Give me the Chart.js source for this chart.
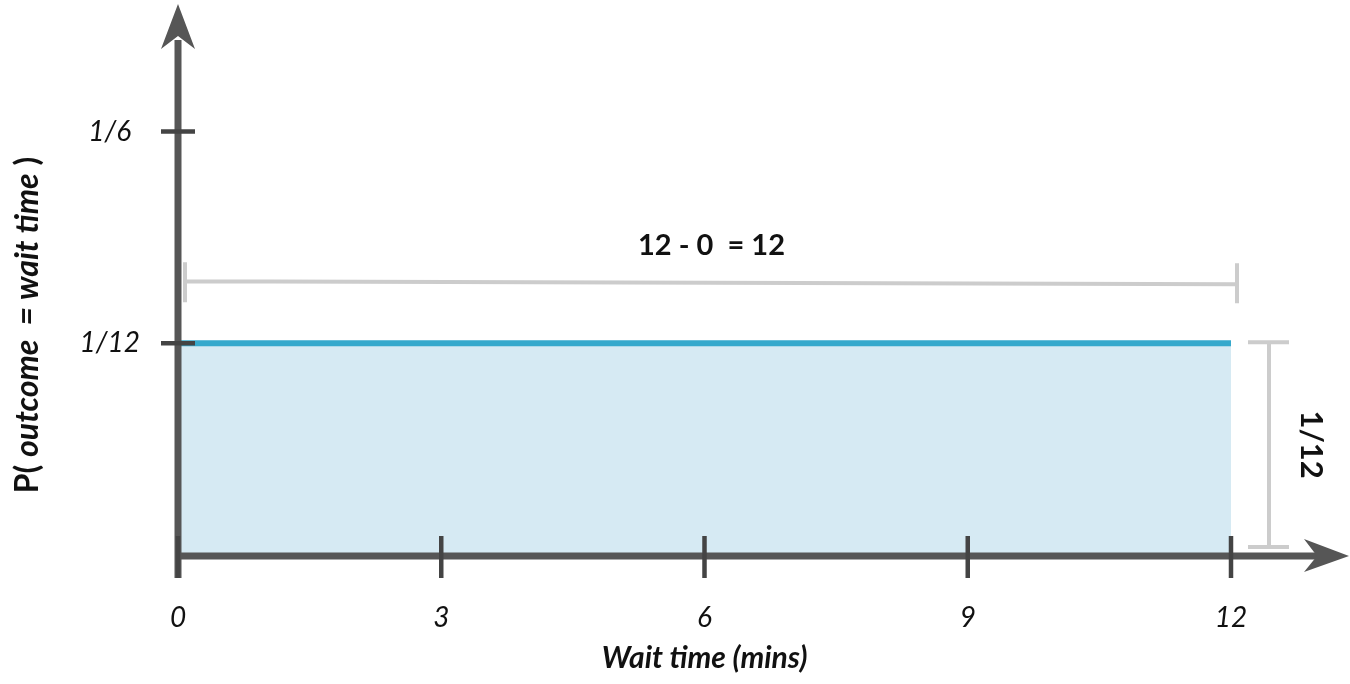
<!DOCTYPE html>
<html>
<head>
<meta charset="utf-8">
<script src="https://cdn.jsdelivr.net/npm/chart.js@4/dist/chart.umd.min.js"></script>
<style>
  html, body { margin: 0; padding: 0; background: #ffffff; }
  #wrap { width: 1350px; height: 684px; position: relative; }
</style>
</head>
<body>
<div id="wrap"><canvas id="c"></canvas></div>
<script>
// ---- data ----
const waitTimes = [0, 12];            // minutes (uniform support)
const density = [1 / 12, 1 / 12];     // P(outcome = wait time)
const xTicks = [0, 3, 6, 9, 12];
const yTicks = [1 / 12, 1 / 6];
const yTickLabels = ['1/12', '1/6'];
const xTitle = 'Wait time (mins)';
const heightLabel = '1/12';

const AXIS = '#565656';
const TICK = '#444444';
const GUIDE = '#cccccc';
const FILL = '#d6eaf3';
const LINE = '#36a9cc';
const TEXT = '#111111';
const FONT = 'Lato, "Open Sans", sans-serif';

const points = waitTimes.map((x, i) => ({ x: x, y: density[i] }));
const xMin = Math.min(...waitTimes), xMax = Math.max(...waitTimes);
const widthLabel = `${xMax} - ${xMin}  = ${xMax - xMin}`;

const decorPlugin = {
  id: 'decor',
  afterDraw(chart) {
    const ctx = chart.ctx;
    const xs = chart.scales.x, ys = chart.scales.y;
    const x0 = xs.getPixelForValue(xMin);
    const x1 = xs.getPixelForValue(xMax);
    const yZero = ys.getPixelForValue(0) + 1;
    const yH = ys.getPixelForValue(density[0]);
    ctx.save();

    // --- guide brackets (light gray) ---
    ctx.strokeStyle = GUIDE;
    ctx.lineWidth = 4;
    ctx.lineCap = 'butt';
    const by = yH - 61;
    ctx.beginPath();
    ctx.moveTo(x0 + 7, by - 1); ctx.lineTo(x1 + 6, by + 2);
    ctx.moveTo(x0 + 7, by - 20); ctx.lineTo(x0 + 7, by + 20);
    ctx.moveTo(x1 + 6, by - 19); ctx.lineTo(x1 + 6, by + 21);
    ctx.stroke();
    const vx = x1 + 38;
    const vTop = yH - 1, vBot = yZero - 9;
    ctx.beginPath();
    ctx.moveTo(vx, vTop); ctx.lineTo(vx, vBot);
    ctx.moveTo(vx - 21, vTop); ctx.lineTo(vx + 20, vTop);
    ctx.moveTo(vx - 21, vBot); ctx.lineTo(vx + 20, vBot);
    ctx.stroke();

    // --- axes ---
    ctx.strokeStyle = AXIS;
    ctx.fillStyle = AXIS;
    ctx.lineWidth = 7;
    ctx.beginPath();
    ctx.moveTo(x0, yZero + 22); ctx.lineTo(x0, 40);
    ctx.stroke();
    ctx.beginPath();
    ctx.moveTo(x0 - 3, yZero); ctx.lineTo(1320, yZero);
    ctx.stroke();
    // y arrow head
    ctx.beginPath();
    ctx.moveTo(x0, 4); ctx.lineTo(x0 - 17, 49); ctx.lineTo(x0, 36); ctx.lineTo(x0 + 17, 49);
    ctx.closePath(); ctx.fill();
    // x arrow head
    ctx.beginPath();
    ctx.moveTo(1349, yZero); ctx.lineTo(1304, yZero - 17); ctx.lineTo(1317, yZero); ctx.lineTo(1304, yZero + 16);
    ctx.closePath(); ctx.fill();

    // --- ticks ---
    ctx.strokeStyle = TICK;
    ctx.lineWidth = 4.5;
    ctx.beginPath();
    xTicks.forEach(v => {
      const px = xs.getPixelForValue(v);
      ctx.moveTo(px, yZero - 20); ctx.lineTo(px, yZero + 22);
    });
    yTicks.forEach(v => {
      const py = ys.getPixelForValue(v);
      ctx.moveTo(x0 - 17, py); ctx.lineTo(x0 + 17, py);
    });
    ctx.stroke();

    // --- texts ---
    ctx.fillStyle = TEXT;
    ctx.textBaseline = 'middle';
    ctx.textAlign = 'center';
    ctx.font = `bold 29px ${FONT}`;
    ctx.fillText(widthLabel, (x0 + x1) / 2 + 7, by - 37);

    ctx.save();
    ctx.translate(vx + 42, (vTop + vBot) / 2);
    ctx.rotate(Math.PI / 2);
    ctx.font = `bold 31px ${FONT}`;
    ctx.fillText(heightLabel, 0, 0);
    ctx.restore();

    // y title with mixed styles
    const parts = [
      { t: 'P( ', f: `bold 32px ${FONT}` },
      { t: 'outcome  = wait time', f: `italic bold 32px ${FONT}` },
      { t: ' )', f: `bold 32px ${FONT}` }
    ];
    let total = 0;
    parts.forEach(p => { ctx.font = p.f; p.w = ctx.measureText(p.t).width; total += p.w; });
    ctx.save();
    ctx.translate(28, 325);
    ctx.rotate(-Math.PI / 2);
    ctx.textAlign = 'left';
    let cx = -total / 2;
    parts.forEach(p => { ctx.font = p.f; ctx.fillText(p.t, cx, 0); cx += p.w; });
    ctx.restore();

    ctx.restore();
  }
};

new Chart(document.getElementById('c'), {
  type: 'line',
  data: {
    datasets: [{
      data: points,
      borderColor: LINE,
      borderWidth: 6,
      backgroundColor: FILL,
      fill: 'origin',
      pointRadius: 0,
      tension: 0
    }]
  },
  options: {
    responsive: true,
    maintainAspectRatio: false,
    animation: false,
    events: [],
    layout: { padding: { top: 22, right: 119, bottom: 8, left: 0 } },
    plugins: { legend: { display: false }, tooltip: { enabled: false } },
    scales: {
      x: {
        type: 'linear',
        min: xMin,
        max: xMax,
        afterBuildTicks: s => { s.ticks = xTicks.map(v => ({ value: v })); },
        afterFit: s => { s.height = 121; },
        grid: { display: false },
        border: { display: false },
        ticks: {
          padding: 38,
          color: TEXT,
          font: { family: FONT, size: 28, style: 'italic' },
          maxRotation: 0,
          callback: v => String(v)
        },
        title: {
          display: true,
          text: xTitle,
          color: TEXT,
          font: { family: FONT, size: 30, style: 'italic', weight: 'bold' },
          padding: { top: 4, bottom: 0 }
        }
      },
      y: {
        type: 'linear',
        min: 0,
        max: 0.2,
        afterBuildTicks: s => { s.ticks = yTicks.map(v => ({ value: v })); },
        afterFit: s => { s.width = 178; },
        grid: { display: false },
        border: { display: false },
        ticks: {
          padding: 30,
          crossAlign: 'center',
          color: TEXT,
          font: { family: FONT, size: 28, style: 'italic' },
          callback: (v, i) => yTickLabels[i]
        }
      }
    }
  },
  plugins: [decorPlugin]
});
</script>
</body>
</html>
